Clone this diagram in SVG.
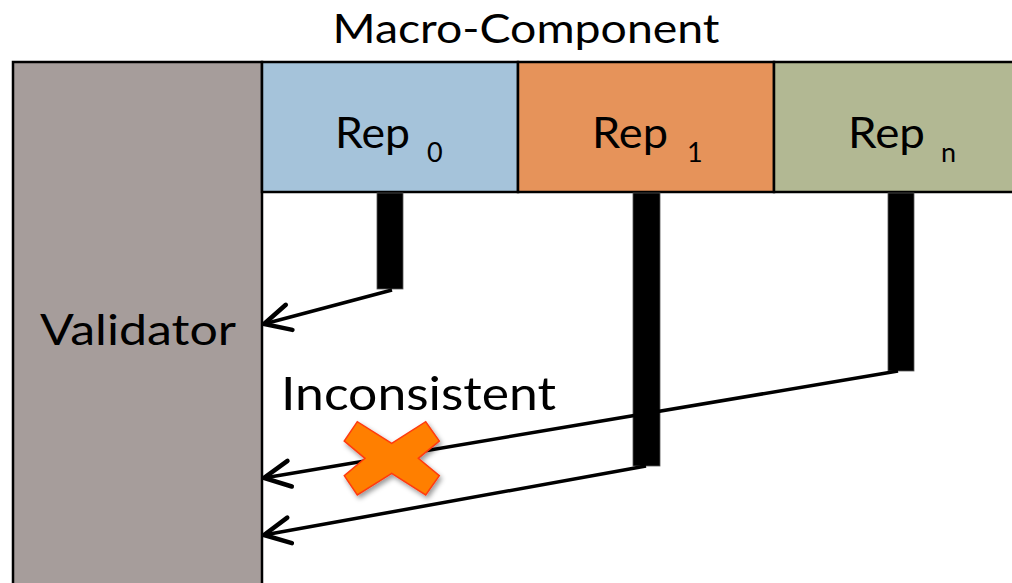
<svg xmlns="http://www.w3.org/2000/svg" width="1012" height="583" viewBox="0 0 1012 583">
<style>
.box{stroke:#000;stroke-width:2.5}
.t{font-family:"Lato","Liberation Sans",sans-serif;fill:#000}
.bar{fill:#000;stroke:#555;stroke-width:0.8}
.conn{stroke:#000;stroke-width:3.5;fill:none;marker-end:url(#arr)}
</style>
<defs>
<marker id="arr" markerUnits="userSpaceOnUse" markerWidth="44" markerHeight="44" refX="41" refY="22" orient="auto" viewBox="0 0 44 44">
<path d="M15,9 L41,22 L15,35" fill="none" stroke="#000" stroke-width="4.5" stroke-linecap="round" stroke-linejoin="miter"/>
</marker>
<filter id="sh" x="-30%" y="-30%" width="160%" height="160%">
<feDropShadow dx="2" dy="3" stdDeviation="2.5" flood-color="#000" flood-opacity="0.4"/>
</filter>
</defs>
<rect width="1012" height="583" fill="#fff"/>
<text class="t" x="526" y="43" font-size="40" text-anchor="middle" textLength="387" lengthAdjust="spacingAndGlyphs">Macro-Component</text>
<g id="validator">
<rect class="box" x="13" y="62" width="249" height="540" fill="#a69d9b"/>
<text class="t" x="40" y="345" font-size="42" textLength="196" lengthAdjust="spacingAndGlyphs">Validator</text>
</g>
<g id="rep0">
<rect class="box" x="262" y="62" width="256" height="130" fill="#a5c3da"/>
<text class="t" x="335" y="148" font-size="42" textLength="75" lengthAdjust="spacingAndGlyphs">Rep</text>
<text class="t" x="427" y="162" font-size="27">0</text>
<rect class="bar" x="377" y="193" width="26" height="96"/>
</g>
<g id="rep1">
<rect class="box" x="518" y="62" width="256" height="130" fill="#e6935a"/>
<text class="t" x="592" y="148" font-size="42" textLength="76" lengthAdjust="spacingAndGlyphs">Rep</text>
<text class="t" x="687" y="162" font-size="27">1</text>
<rect class="bar" x="633" y="193" width="27" height="273"/>
</g>
<g id="repn">
<rect class="box" x="774" y="62" width="250" height="130" fill="#b2b893"/>
<text class="t" x="848" y="148" font-size="42" textLength="77" lengthAdjust="spacingAndGlyphs">Rep</text>
<text class="t" x="941" y="162" font-size="27">n</text>
<rect class="bar" x="888" y="193" width="26" height="178"/>
</g>
<g id="connectors">
<line class="conn" x1="392" y1="290" x2="264" y2="324"/>
<line class="conn" x1="898" y1="371" x2="264" y2="478"/>
<line class="conn" x1="646" y1="466" x2="264" y2="535"/>
</g>
<text class="t" x="281" y="410" font-size="46" textLength="275" lengthAdjust="spacingAndGlyphs">Inconsistent</text>
<g id="cross" filter="url(#sh)">
<polygon points="344.3,441 357.3,421.7 391.7,443.3 425.7,421.7 439.3,441 418.3,458.3 439.3,475.7 425.7,495 391.7,473.3 357.3,495 344.3,475.7 365,458.3" fill="#ff7f00" stroke="#ff3a10" stroke-width="1.5" stroke-linejoin="miter"/>
</g>
</svg>
